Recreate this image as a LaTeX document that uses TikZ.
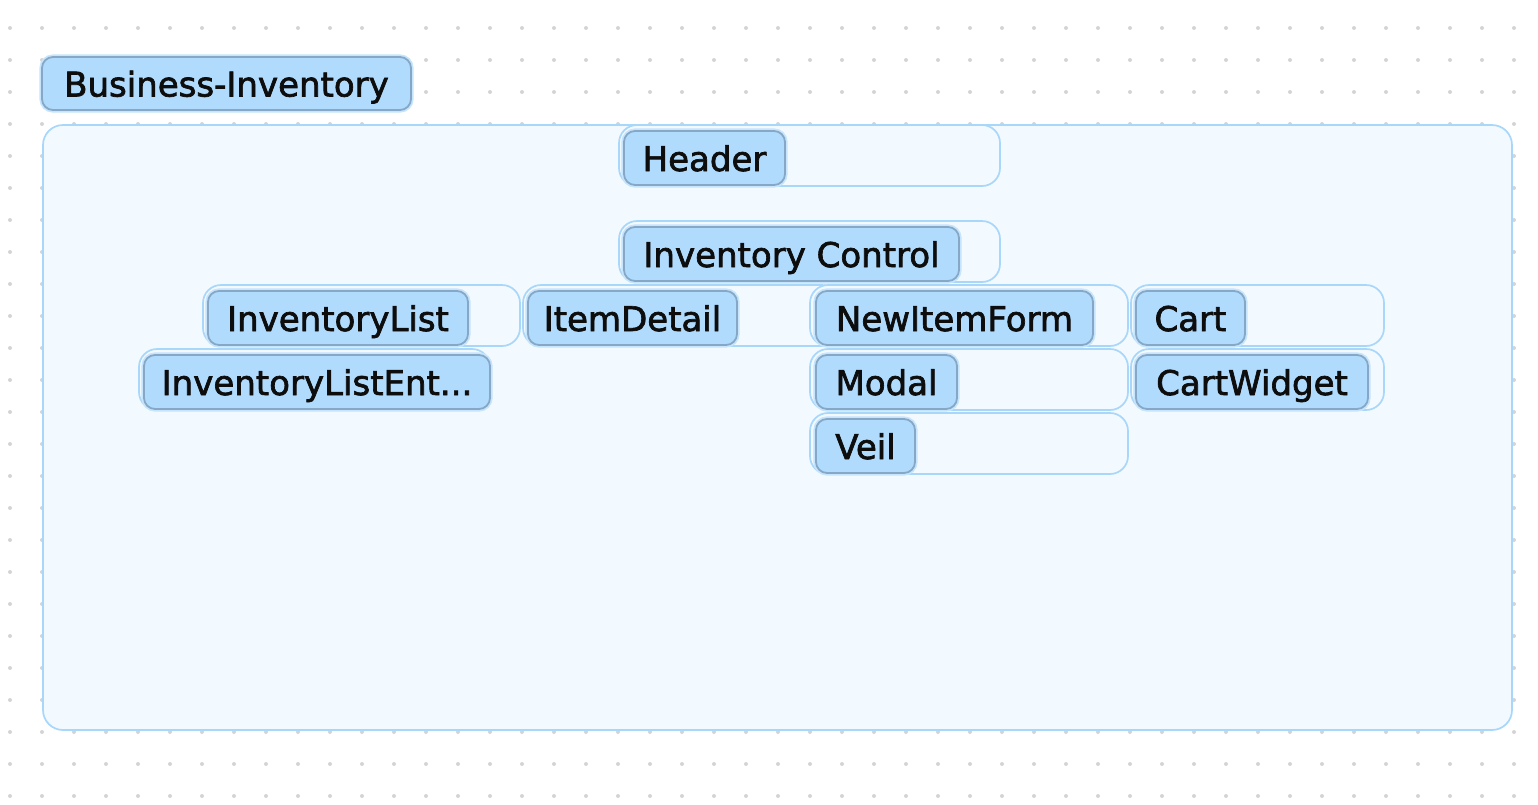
\documentclass[tikz,border=0pt]{standalone}
\usepackage{fontspec}
\setmainfont{DejaVu Sans}
\newfontfamily\pillfont{DejaVu Sans}[FakeBold=2]
\usepackage{tikz}
\usetikzlibrary{positioning}
\definecolor{pillfill}{HTML}{B0DBFD}
\definecolor{pillline}{HTML}{86A8C6}
\definecolor{pillhalo}{HTML}{C6E5FD}
\definecolor{grpfill}{HTML}{F2F9FF}
\definecolor{grpline}{HTML}{A9D7FA}
\definecolor{gridc}{HTML}{D4D4D4}
\tikzset{pill/.style = {draw=pillline, fill=pillfill, line width=0.9pt,
                        rounded corners=5.5pt, inner sep=0pt, minimum height=27pt,
                        text height=15.5pt, text depth=2.5pt,
                        text=black!95, font=\pillfont\fontsize{17}{20}\selectfont,
                        preaction={draw=pillhalo, line width=2.6pt}}}
\tikzset{grp/.style = {draw=grpline, fill=grpfill, line width=0.85pt, rounded corners=9pt}}
\tikzset{dot/.style = {fill=gridc}}

\begin{document}
\begin{tikzpicture}[x=0.5pt, y=-0.5pt]
      \useasboundingbox (0, 0) rectangle (1538, 804);
      \fill [white] (0, 0) rectangle (1538, 804);

      % dotted background
      \foreach \i in {0, ..., 47} {
        \foreach \j in {0, ..., 24} {
          \fill [dot] (10 + 32*\i, 28 + 32*\j) circle [radius=1pt];
        }
      }

      % outer container
      \draw [grp, rounded corners=10pt] (43, 125) rectangle (1512, 730);

      % group boxes
      \draw [grp] (619, 125) rectangle (1000, 186);
      \draw [grp] (619, 221) rectangle (1000, 282);
      \draw [grp] (203, 285) rectangle (520, 346);
      \draw [grp] (523, 285) rectangle (840, 346);
      \draw [grp] (810, 285) rectangle (1128, 346);
      \draw [grp] (1131, 285) rectangle (1384, 346);
      \draw [grp] (139, 349) rectangle (490, 410);
      \draw [grp] (810, 349) rectangle (1128, 410);
      \draw [grp] (1131, 349) rectangle (1384, 410);
      \draw [grp] (810, 413) rectangle (1128, 474);

      % labels
      \node [pill, minimum width=184.5pt, minimum height=26.5pt] (business) at (226.5, 83.5) {Business-Inventory};
      \node [pill, minimum width=80.5pt] (header) at (704.5, 158) {Header};
      \node [pill, minimum width=167.5pt] (control) at (791.5, 254) {Inventory Control};
      \node [pill, minimum width=130pt] (invlist) at (338, 318) {InventoryList};
      \node [pill, minimum width=104.5pt] (detail) at (632.5, 318) {ItemDetail};
      \node [pill, minimum width=138.5pt] (newform) at (954.5, 318) {NewItemForm};
      \node [pill, minimum width=54.5pt] (cart) at (1190.5, 318) {Cart};
      \node [pill, minimum width=173pt] (entry) at (317, 382) {InventoryListEnt...};
      \node [pill, minimum width=70.5pt] (modal) at (886.5, 382) {Modal};
      \node [pill, minimum width=116pt] (widget) at (1252, 382) {CartWidget};
      \node [pill, minimum width=49.5pt] (veil) at (865.5, 446) {Veil};
    \end{tikzpicture}
\end{document}
